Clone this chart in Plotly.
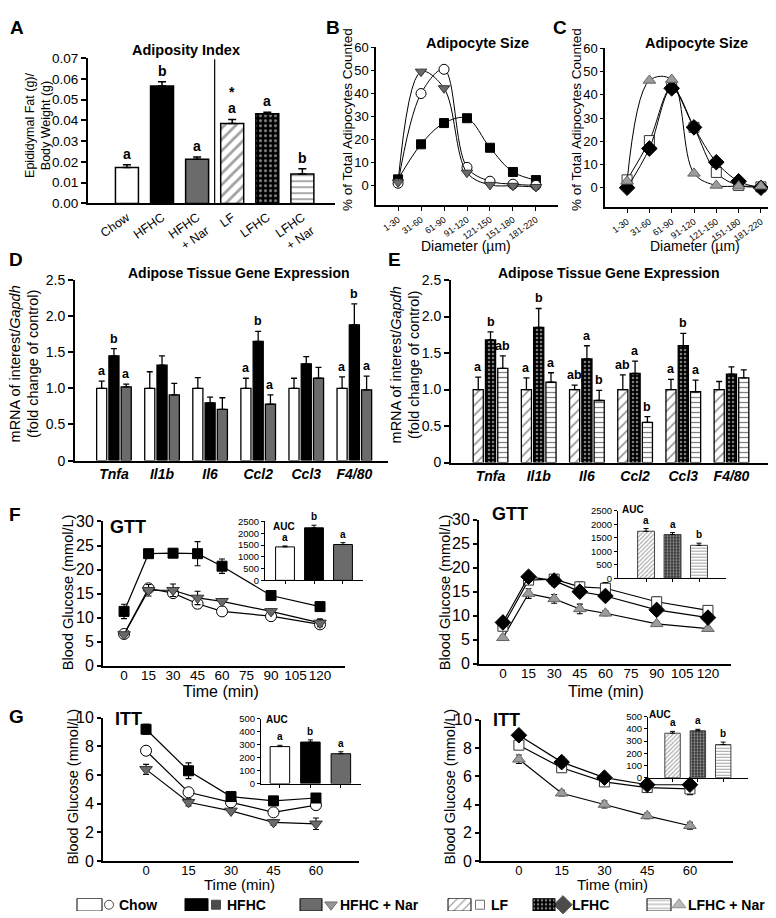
import numpy as np
import plotly.graph_objects as go

W, H = 776, 918
SANS = "Liberation Sans, Arial, Helvetica, sans-serif"

# ---------------- DATA ----------------
# A: adiposity index
a_labels = ["Chow", "HFHC", "HFHC<br>+ Nar", "LF", "LFHC", "LFHC<br>+ Nar"]
a_mean = [0.0173, 0.0566, 0.0213, 0.0385, 0.0432, 0.0142]
a_err = [0.0014, 0.0020, 0.0011, 0.0020, 0.0008, 0.0025]
a_letters = ["a", "b", "a", "a", "a", "b"]
a_marks = ["", "", "", "*", "", ""]

# B / C: adipocyte size distribution
diam_labels = ["1-30", "31-60", "61-90", "91-120", "121-150", "151-180", "181-220"]
b_chow = [1.1, 40.0, 50.5, 8.0, 2.0, 0.7, 0.2]
b_hfhc = [2.8, 18.0, 27.2, 29.3, 16.5, 6.0, 2.5]
b_hfhc_nar = [1.5, 49.5, 42.3, 5.7, 0.4, 0.0, -0.5]
c_lf = [3.4, 20.3, 43.2, 26.0, 6.6, 1.0, 0.4]
c_lfhc = [0.0, 16.9, 42.8, 26.0, 11.0, 2.8, 0.0]
c_lfhc_nar = [2.8, 46.2, 46.6, 6.2, 1.0, 0.7, 0.7]

# D / E: adipose tissue gene expression
genes = ["Tnfa", "Il1b", "Il6", "Ccl2", "Ccl3", "F4/80"]
d_chow = [1.00, 1.00, 1.00, 1.00, 1.00, 1.00]
d_chow_err = [0.10, 0.23, 0.15, 0.14, 0.14, 0.16]
d_chow_let = ["a", "", "", "a", "", "a"]
d_hfhc = [1.45, 1.32, 0.80, 1.65, 1.34, 1.88]
d_hfhc_err = [0.10, 0.13, 0.08, 0.14, 0.10, 0.29]
d_hfhc_let = ["b", "", "", "b", "", "b"]
d_nar = [1.02, 0.91, 0.71, 0.78, 1.14, 0.98]
d_nar_err = [0.04, 0.16, 0.16, 0.13, 0.15, 0.19]
d_nar_let = ["a", "", "", "a", "", "a"]

e_lf = [1.00, 1.00, 1.00, 1.00, 1.00, 1.00]
e_lf_err = [0.17, 0.16, 0.06, 0.20, 0.14, 0.11]
e_lf_let = ["a", "a", "ab", "ab", "a", ""]
e_lfhc = [1.68, 1.85, 1.42, 1.22, 1.60, 1.21]
e_lfhc_err = [0.11, 0.26, 0.18, 0.17, 0.17, 0.10]
e_lfhc_let = ["b", "b", "a", "a", "b", ""]
e_nar = [1.29, 1.10, 0.85, 0.55, 0.97, 1.16]
e_nar_err = [0.17, 0.13, 0.14, 0.08, 0.16, 0.11]
e_nar_let = ["ab", "a", "b", "b", "a", ""]

# F: GTT
gtt_time = [0, 15, 30, 45, 60, 90, 120]
gtt_chow = [6.6, 16.1, 15.1, 12.9, 11.3, 10.3, 8.6]
gtt_chow_err = [0.3, 0.6, 0.6, 1.0, 0.4, 0.4, 0.4]
gtt_hfhc = [11.3, 23.3, 23.4, 23.3, 20.7, 14.6, 12.3]
gtt_hfhc_err = [1.5, 0.5, 0.8, 2.5, 1.5, 0.5, 0.4]
gtt_nar = [6.5, 15.7, 15.7, 14.1, 13.4, 11.3, 8.9]
gtt_nar_err = [0.3, 1.2, 1.3, 1.4, 0.5, 0.5, 0.8]
gtt_lf = [7.8, 17.4, 17.6, 16.0, 15.7, 12.9, 11.1]
gtt_lf_err = [0.3, 0.6, 0.9, 1.0, 1.2, 1.0, 0.4]
gtt_lfhc = [8.6, 18.1, 17.3, 15.0, 14.1, 11.2, 9.6]
gtt_lfhc_err = [0.3, 0.4, 1.1, 0.8, 0.6, 0.5, 0.5]
gtt_lfnar = [5.4, 14.6, 13.5, 11.4, 10.5, 8.3, 7.3]
gtt_lfnar_err = [0.5, 1.0, 0.9, 1.0, 0.5, 0.4, 0.4]

auc_gtt_left = [1420, 2230, 1520]
auc_gtt_left_err = [40, 110, 80]
auc_gtt_left_let = ["a", "b", "a"]
auc_gtt_right = [1740, 1620, 1220]
auc_gtt_right_err = [100, 70, 80]
auc_gtt_right_let = ["a", "a", "b"]

# G: ITT
itt_time = [0, 15, 30, 45, 60]
itt_chow = [7.7, 4.8, 4.1, 3.4, 3.9]
itt_chow_err = [0.15, 0.15, 0.10, 0.10, 0.30]
itt_hfhc = [9.2, 6.3, 4.5, 4.2, 4.4]
itt_hfhc_err = [0.35, 0.55, 0.15, 0.30, 0.30]
itt_nar = [6.4, 4.1, 3.5, 2.7, 2.6]
itt_nar_err = [0.35, 0.25, 0.10, 0.20, 0.40]
itt_lf = [8.2, 6.6, 5.6, 5.2, 5.1]
itt_lf_err = [0.20, 0.30, 0.10, 0.20, 0.40]
itt_lfhc = [8.9, 7.0, 5.9, 5.4, 5.4]
itt_lfhc_err = [0.30, 0.35, 0.20, 0.30, 0.30]
itt_lfnar = [7.2, 4.8, 4.0, 3.2, 2.5]
itt_lfnar_err = [0.30, 0.20, 0.25, 0.20, 0.25]

auc_itt_left = [285, 320, 230]
auc_itt_left_err = [10, 17, 15]
auc_itt_left_let = ["a", "b", "a"]
auc_itt_right = [365, 385, 272]
auc_itt_right_err = [15, 12, 20]
auc_itt_right_let = ["a", "a", "b"]

legend_labels = ["Chow", "HFHC", "HFHC + Nar", "LF", "LFHC", "LFHC + Nar"]

# ---------------- STYLES ----------------
GRAY = "#6b6b6b"
LGRAY = "#9c9c9c"
STY = {
    "Chow": dict(sym="circle", fill="white", line="black", size=9),
    "HFHC": dict(sym="square", fill="black", line="black", size=9),
    "HFHC + Nar": dict(sym="triangle-down", fill=GRAY, line="#333333", size=10),
    "LF": dict(sym="square", fill="white", line="#333333", size=9),
    "LFHC": dict(sym="diamond", fill="black", line="black", size=11),
    "LFHC + Nar": dict(sym="triangle-up", fill=LGRAY, line="#666666", size=10),
}
# bar fill patterns for the LF-series (hatched / dotted-black / horizontal lines)
PAT_LF = dict(shape="/", fgcolor="black", bgcolor="white", size=7, solidity=0.2)
PAT_LFHC = dict(shape=".", fgcolor="white", bgcolor="black", size=4, solidity=0.3)
PAT_NAR = dict(shape="-", fgcolor="black", bgcolor="white", size=5, solidity=0.25)

fig = go.Figure()
ann = []


def axname(n, k):
    return f"{k}axis" if n == 1 else f"{k}axis{n}"


def axref(n, k):
    return k if n == 1 else f"{k}{n}"


def setup(n, box, xr, yr, xkw=None, ykw=None, lw=1.5):
    x0, x1, ytop, ybot = box
    base = dict(showgrid=False, zeroline=False, showline=True, linecolor="black",
                linewidth=lw, ticks="", color="black", fixedrange=True, tickangle=0)
    xa = dict(base, domain=[x0 / W, x1 / W], range=xr, anchor=axref(n, "y"))
    ya = dict(base, domain=[1 - ybot / H, 1 - ytop / H], range=yr, anchor=axref(n, "x"))
    if xkw:
        xa.update(xkw)
    if ykw:
        ya.update(ykw)
    fig.update_layout(**{axname(n, "x"): xa, axname(n, "y"): ya})


def ptext(x, y, text, size, bold=False, angle=0, family=SANS, xanchor="center"):
    t = f"<b>{text}</b>" if bold else text
    ann.append(dict(xref="paper", yref="paper", x=x / W, y=1 - y / H, text=t, showarrow=False,
                    textangle=angle, xanchor=xanchor, yanchor="middle",
                    font=dict(size=size, family=family, color="black")))


def letter(n, x, y, text, size=12, yshift=1):
    if not text:
        return
    ann.append(dict(xref=axref(n, "x"), yref=axref(n, "y"), x=x, y=y, text=f"<b>{text}</b>",
                    showarrow=False, xanchor="center", yanchor="bottom", yshift=yshift,
                    font=dict(size=size, family=SANS, color="black")))


def err_up(arr, th=1.3, w=3):
    return dict(type="data", array=arr, arrayminus=[0] * len(arr), symmetric=False,
                color="black", thickness=th, width=w)


def series(n, x, y, err, name, size=None, spline=False, lw=1.2):
    s = STY[name]
    fig.add_trace(go.Scatter(
        x=x, y=y, mode="lines+markers", xaxis=axref(n, "x"), yaxis=axref(n, "y"),
        line=dict(color="black", width=lw, shape="spline" if spline else "linear", smoothing=1.0),
        marker=dict(symbol=s["sym"], size=size or s["size"], color=s["fill"],
                    line=dict(color=s["line"], width=1)),
        error_y=(dict(type="data", array=err, color="black", thickness=1.1, width=3)
                 if err is not None else None),
        cliponaxis=False, hoverinfo="skip"))


# ---------------- PANEL A ----------------
ax = np.arange(len(a_labels))
setup(1, (80, 327, 43, 191), [-1.11, 5.93], [0, 0.07],
      xkw=dict(tickvals=ax, ticktext=a_labels, tickangle=-35, tickfont=dict(size=12.5, family=SANS)),
      ykw=dict(dtick=0.01, tickformat=".2f", ticks="outside", ticklen=5, tickwidth=1.5,
               tickfont=dict(size=13.5, family=SANS)), lw=2)
a_fill = ["white", "black", GRAY, "white", "black", "white"]
fig.add_trace(go.Bar(
    x=ax, y=a_mean, width=0.655, xaxis="x", yaxis="y",
    marker=dict(color=a_fill, line=dict(color="black", width=1.5),
                pattern=dict(shape=["", "", "", "/", ".", "-"],
                             fgcolor=["black", "black", "black", "black", "white", "black"],
                             bgcolor=a_fill, size=[8, 8, 8, 8, 5, 6],
                             solidity=[0.3, 0.3, 0.3, 0.35, 0.3, 0.3])),
    error_y=err_up(a_err, 1.5, 4), hoverinfo="skip"))
for i in range(len(a_labels)):
    top = a_mean[i] + a_err[i]
    letter(1, i, top, a_letters[i], size=14)
    if a_marks[i]:
        letter(1, i, top, a_marks[i], size=14, yshift=17)
fig.add_shape(type="line", xref="x", yref="y", x0=2.5, x1=2.5, y0=0, y1=0.0695,
              line=dict(color="black", width=1.2))
ptext(178, 35, "Adiposity Index", 14.5, bold=True)
ptext(30, 112, "Epididymal Fat (g)/<br>Body Weight (g)", 12.5, angle=-90)

# ---------------- PANEL B ----------------
dx = np.arange(len(diam_labels))
diam_xkw = dict(tickvals=dx, ticktext=diam_labels, tickangle=-35, ticks="outside", ticklen=4,
                tickfont=dict(size=9, family=SANS, color="black"))
diam_ykw = dict(tickvals=[0, 10, 20, 30, 40, 50, 60], ticks="outside", ticklen=3,
                tickfont=dict(size=13, family=SANS))
setup(2, (368, 550, 32, 193), [-0.96, 6.96], [-8.5, 60], xkw=diam_xkw, ykw=diam_ykw)
series(2, dx, b_hfhc, None, "HFHC", size=9, spline=True, lw=1)
series(2, dx, b_chow, None, "Chow", size=10, spline=True, lw=1)
series(2, dx, b_hfhc_nar, None, "HFHC + Nar", size=10, spline=True, lw=1)
ptext(470, 27, "Adipocyte Size", 14.5, bold=True)
ptext(339, 106, "% of Total Adipocytes Counted", 13.5, angle=-90)
ptext(458, 234, "Diameter (µm)", 14)

# ---------------- PANEL C ----------------
setup(3, (597, 773, 33, 195), [-0.99, 6.9], [-8.45, 60], xkw=diam_xkw, ykw=diam_ykw)
series(3, dx, c_lf, None, "LF", size=10, spline=True, lw=1)
series(3, dx, c_lfhc, None, "LFHC", size=12, spline=True, lw=1)
series(3, dx, c_lfhc_nar, None, "LFHC + Nar", size=11, spline=True, lw=1)
ptext(688, 28, "Adipocyte Size", 14.5, bold=True)
ptext(568, 106, "% of Total Adipocytes Counted", 13.5, angle=-90)
ptext(687, 234, "Diameter (µm)", 14)

# ---------------- PANELS D / E ----------------
gx = np.arange(len(genes))
gene_xkw = dict(tickvals=gx, ticktext=[f"<b><i>{g}</i></b>" for g in genes],
                tickfont=dict(size=14, family=SANS))
gene_ykw = dict(tickvals=[0, 0.5, 1.0, 1.5, 2.0, 2.5], ticktext=["0", "0.5", "1.0", "1.5", "2.0", "2.5"],
                ticks="outside", ticklen=5, tickwidth=1.5, tickfont=dict(size=14, family=SANS))
setup(4, (67, 380, 269, 453), [-0.81, 5.70], [0, 2.5], xkw=gene_xkw, ykw=gene_ykw, lw=2)
setup(5, (443, 763, 269, 455), [-0.82, 5.82], [0, 2.5], xkw=gene_xkw, ykw=gene_ykw, lw=2)

PITCH, BW = 0.255, 0.21


def group_bars(n, vals, errs, lets, shift, marker):
    xs = gx + shift
    fig.add_trace(go.Bar(x=xs, y=vals, width=BW, xaxis=axref(n, "x"), yaxis=axref(n, "y"),
                         marker=marker, error_y=err_up(errs, 1.3, 3), hoverinfo="skip"))
    for i in range(len(vals)):
        letter(n, xs[i], vals[i] + errs[i], lets[i], size=12.5)


line_k = dict(color="black", width=1.3)
group_bars(4, d_chow, d_chow_err, d_chow_let, -PITCH, dict(color="white", line=line_k))
group_bars(4, d_hfhc, d_hfhc_err, d_hfhc_let, 0, dict(color="black", line=line_k))
group_bars(4, d_nar, d_nar_err, d_nar_let, PITCH, dict(color=GRAY, line=line_k))
group_bars(5, e_lf, e_lf_err, e_lf_let, -PITCH, dict(color="white", line=line_k, pattern=PAT_LF))
group_bars(5, e_lfhc, e_lfhc_err, e_lfhc_let, 0, dict(color="black", line=line_k, pattern=PAT_LFHC))
group_bars(5, e_nar, e_nar_err, e_nar_let, PITCH, dict(color="white", line=line_k, pattern=PAT_NAR))
ptext(230, 262, "Adipose Tissue Gene Expression", 14, bold=True)
ptext(600, 262, "Adipose Tissue Gene Expression", 14, bold=True)
ptext(16, 355, "mRNA of interest/<i>Gapdh</i><br>(fold change of control)", 14.5, angle=-90)
ptext(397, 355, "mRNA of interest/<i>Gapdh</i><br>(fold change of control)", 14.5, angle=-90)

# ---------------- PANEL F (GTT) ----------------
gtt_xkw = dict(tickvals=[0, 15, 30, 45, 60, 75, 90, 105, 120], tickangle=0, ticklabelstandoff=-4,
               tickfont=dict(size=13.5, family=SANS))
gtt_ykw = dict(tickvals=[0, 5, 10, 15, 20, 25, 30], ticks="outside", ticklen=4, tickwidth=1.5,
               tickfont=dict(size=16, family=SANS))
setup(6, (95, 337, 515, 662), [-12.9, 135.3], [0, 30], xkw=gtt_xkw, ykw=gtt_ykw, lw=2)
setup(8, (471, 723, 513, 660), [-14.0, 133.5], [0, 30], xkw=gtt_xkw, ykw=gtt_ykw, lw=2)
series(6, gtt_time, gtt_chow, gtt_chow_err, "Chow", size=11)
series(6, gtt_time, gtt_nar, gtt_nar_err, "HFHC + Nar", size=11)
series(6, gtt_time, gtt_hfhc, gtt_hfhc_err, "HFHC", size=10)
series(8, gtt_time, gtt_lfnar, gtt_lfnar_err, "LFHC + Nar", size=11)
series(8, gtt_time, gtt_lf, gtt_lf_err, "LF", size=10)
series(8, gtt_time, gtt_lfhc, gtt_lfhc_err, "LFHC", size=12)
ptext(120, 521, "GTT", 18, bold=True)
ptext(502, 507, "GTT", 18, bold=True)
ptext(60, 587, "Blood Glucose (mmol/L)", 14.5, angle=-90)
ptext(437, 587, "Blood Glucose (mmol/L)", 14.5, angle=-90)
ptext(213, 688, "Time (min)", 16)
ptext(598, 688, "Time (min)", 16)

# ---------------- PANEL G (ITT) ----------------
itt_xkw = dict(tickvals=[0, 15, 30, 45, 60], tickangle=0, ticklabelstandoff=-4,
               tickfont=dict(size=13, family=SANS))
itt_ykw = dict(tickvals=[0, 2, 4, 6, 8, 10], ticks="outside", ticklen=4, tickwidth=1.5,
               tickfont=dict(size=16, family=SANS))
setup(10, (95, 351, 715, 861), [-15.2, 75.2], [0, 10], xkw=itt_xkw, ykw=itt_ykw, lw=2)
setup(12, (473, 725, 717, 861), [-13.3, 75.1], [0, 10], xkw=itt_xkw, ykw=itt_ykw, lw=2)
series(10, itt_time, itt_nar, itt_nar_err, "HFHC + Nar", size=11)
series(10, itt_time, itt_chow, itt_chow_err, "Chow", size=11)
series(10, itt_time, itt_hfhc, itt_hfhc_err, "HFHC", size=10)
series(12, itt_time, itt_lfnar, itt_lfnar_err, "LFHC + Nar", size=11)
series(12, itt_time, itt_lf, itt_lf_err, "LF", size=10)
series(12, itt_time, itt_lfhc, itt_lfhc_err, "LFHC", size=12)
ptext(120, 716, "ITT", 18, bold=True)
ptext(498, 717, "ITT", 18, bold=True)
ptext(65, 785, "Blood Glucose (mmol/L)", 14.5, angle=-90)
ptext(442, 785, "Blood Glucose (mmol/L)", 14.5, angle=-90)
ptext(231, 885, "Time (min)", 15)
ptext(604, 885, "Time (min)", 15)

# ---------------- AUC INSETS ----------------
ix = np.arange(3)


def inset(n, box, xr, ymax, dtick, vals, errs, lets, width, left_style, auc_xy):
    setup(n, box, xr, [0, ymax],
          xkw=dict(tickvals=ix, showticklabels=False, ticks="outside", ticklen=3, tickwidth=1),
          ykw=dict(dtick=dtick, ticks="outside", ticklen=3, tickwidth=1,
                   tickfont=dict(size=9.5, family=SANS)), lw=1)
    if left_style:
        mk = dict(color=["white", "black", GRAY], line=dict(color="black", width=1))
    else:
        fills = ["white", "#3a3a3a", "white"]
        mk = dict(color=fills, line=dict(color="#444444", width=1),
                  pattern=dict(shape=["/", ".", "-"], fgcolor=["#555555", "#bdbdbd", "#777777"],
                               bgcolor=fills, size=[3, 3, 3], solidity=[0.35, 0.35, 0.35]))
    fig.add_trace(go.Bar(x=ix, y=vals, width=width, xaxis=axref(n, "x"), yaxis=axref(n, "y"),
                         marker=mk, error_y=err_up(errs, 1, 2.5), hoverinfo="skip"))
    for i in range(3):
        letter(n, i, vals[i] + errs[i], lets[i], size=10)
    ptext(auc_xy[0], auc_xy[1], "AUC", 10, bold=True)


inset(7, (257, 355, 515, 575), [-0.69, 2.69], 2500, 500, auc_gtt_left, auc_gtt_left_err,
      auc_gtt_left_let, 0.65, True, (276, 520))
inset(9, (610, 718, 504, 573), [-1.06, 3.02], 2500, 500, auc_gtt_right, auc_gtt_right_err,
      auc_gtt_right_let, 0.64, False, (625, 503))
inset(11, (253, 353, 716, 782), [-0.62, 2.66], 500, 100, auc_itt_left, auc_itt_left_err,
      auc_itt_left_let, 0.64, True, (269, 717))
inset(13, (640, 740, 714, 776), [-0.97, 2.98], 500, 100, auc_itt_right, auc_itt_right_err,
      auc_itt_right_let, 0.61, False, (652, 712))

# ---------------- PANEL LETTERS ----------------
for lab, (px, py) in {"A": (9, 12), "B": (325, 12), "C": (552, 12), "D": (8, 248),
                      "E": (386, 248), "F": (7, 508), "G": (8, 714)}.items():
    ptext(px, py, lab, 19, bold=True)

# ---------------- CUSTOM LEGEND ----------------
setup(14, (0, W, 899, 912), [0, W], [0, 1],
      xkw=dict(visible=False), ykw=dict(visible=False))
box_cx = [81.5, 188.5, 303, 451.5, 536, 651]
box_w = [25, 23, 22, 23, 22, 24]
mark_x = [101, 208, 323, 472, 555, 671]
text_x = [109, 217, 330, 481, 562, 678]
leg_fill = ["white", "black", GRAY, "white", "black", "white"]
fig.add_trace(go.Bar(
    x=box_cx, y=[1] * 6, width=box_w, xaxis="x14", yaxis="y14",
    marker=dict(color=leg_fill, line=dict(color="black", width=1),
                pattern=dict(shape=["", "", "", "/", ".", "-"],
                             fgcolor=["black", "black", "black", "black", "white", "black"],
                             bgcolor=leg_fill, size=[6, 6, 6, 6, 4, 4],
                             solidity=[0.2, 0.2, 0.2, 0.2, 0.3, 0.25])),
    hoverinfo="skip"))
fig.add_trace(go.Scatter(
    x=mark_x, y=[0.5] * 6, mode="markers", xaxis="x14", yaxis="y14", cliponaxis=False,
    marker=dict(symbol=[STY[k]["sym"] for k in legend_labels],
                size=[9, 9, 11, 9, 14, 12],
                color=[STY[k]["fill"] for k in legend_labels],
                line=dict(color=[STY[k]["line"] for k in legend_labels], width=1)),
    hoverinfo="skip"))
for lbl, tx in zip(legend_labels, text_x):
    ann.append(dict(xref="x14", yref="y14", x=tx, y=0.5, text=f"<b>{lbl}</b>", showarrow=False,
                    xanchor="left", yanchor="middle",
                    font=dict(size=14, family=SANS, color="black")))

fig.update_layout(
    width=W, height=H, margin=dict(l=0, r=0, t=0, b=0),
    paper_bgcolor="white", plot_bgcolor="rgba(0,0,0,0)",
    barmode="overlay", showlegend=False, annotations=ann,
    font=dict(family=SANS, color="black"),
)

fig.write_html("out.html")
